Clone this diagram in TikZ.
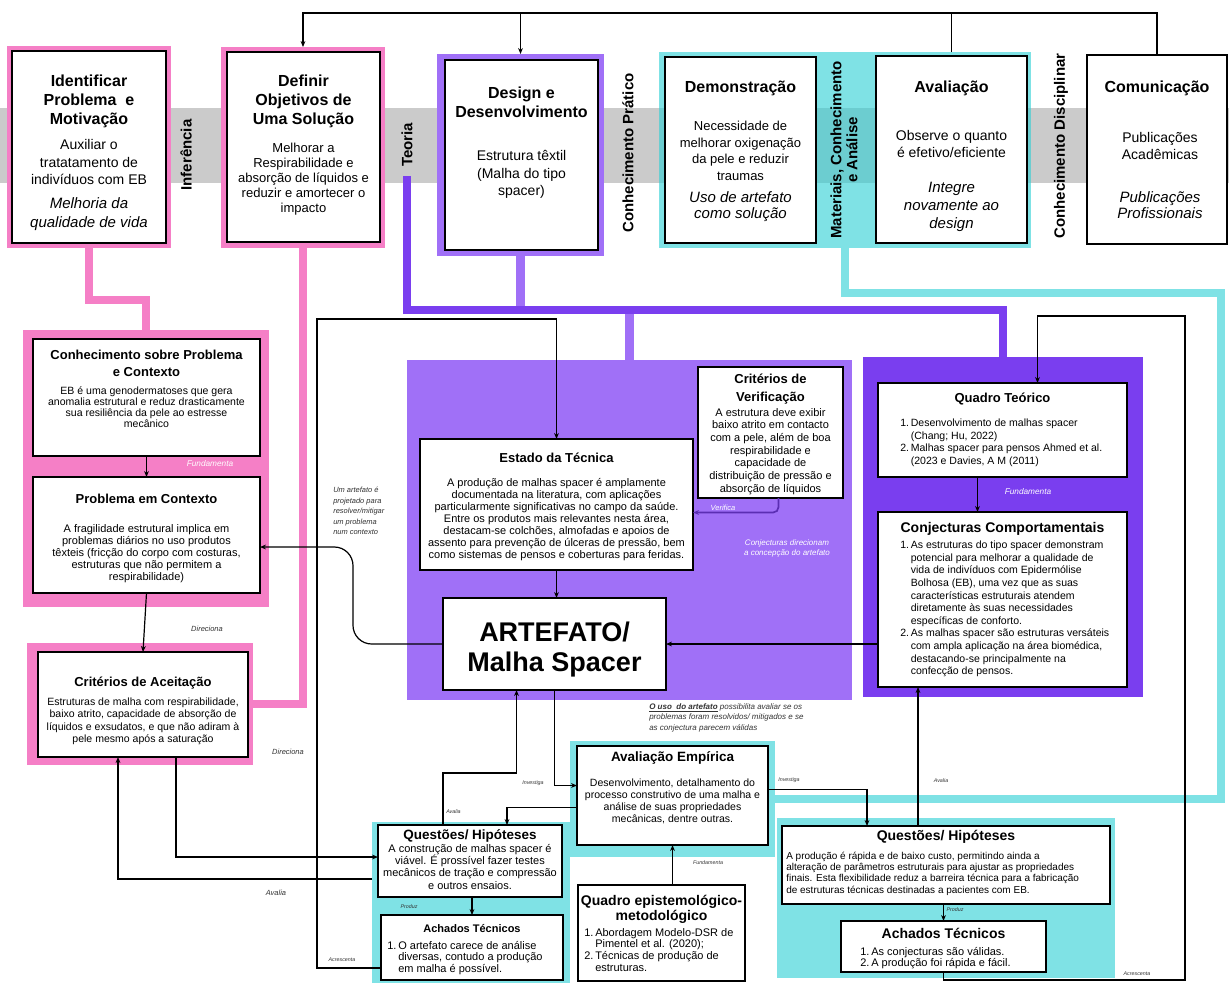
\documentclass[tikz,border=0pt]{standalone}
\usepackage{fontspec}
\setmainfont{Liberation Sans}
\usetikzlibrary{arrows.meta,calc}

\definecolor{pinkc}{HTML}{F57FC6}
\definecolor{lpur}{HTML}{A070F7}
\definecolor{dpur}{HTML}{7A3EEF}
\definecolor{cyanc}{HTML}{7FE2E5}
\definecolor{cyandk}{HTML}{6CCDD0}
\definecolor{bandc}{HTML}{CBCBCB}
\definecolor{verifc}{HTML}{5B2EB3}
\definecolor{notec}{HTML}{333333}

% rectangle node given by its corners (x1,y1)-(x2,y2), then its name
\newcommand\rbox[6][]{%
  \node[box,#1,minimum width={(#4-#2)*0.75pt},minimum height={(#5-#3)*0.75pt}]
    (#6) at ({(#2+#4)/2},{(#3+#5)/2}) {};}

\begin{document}
\begin{tikzpicture}[x=0.75pt,y=-0.75pt,
  box/.style={draw=black,line width=1.4pt,fill=white,inner sep=0pt,outer sep=0pt},
  % text blocks are placed by the baseline of their last line
  tx/.style={inner sep=0pt,align=center,anchor=base},
  tl/.style={inner sep=0pt,align=left,anchor=base west},
  side/.style={inner sep=0pt,rotate=90,align=center,font=\bfseries\fontsize{11.25}{12}\selectfont},
  ttl/.style={font=\bfseries\fontsize{12}{14.25}\selectfont},
  ln/.style={line width=0.9pt,draw=black},
  arr/.style={ln,-{Stealth[length=4.5pt,width=3.6pt]}},
  pinkline/.style={draw=pinkc,line width=6pt},
  lpline/.style={draw=lpur,line width=6.5pt},
  dpline/.style={draw=dpur,line width=6.5pt},
  cyline/.style={draw=cyanc,line width=6pt},
  note/.style={inner sep=0pt,font=\itshape\fontsize{4}{5}\selectfont,text=notec},
  mnote/.style={inner sep=0pt,font=\itshape\fontsize{5.6}{7.9}\selectfont,text=notec},
  wnote/.style={inner sep=0pt,font=\itshape\fontsize{6.2}{7.5}\selectfont,text=white},
]
\useasboundingbox (0,0) rectangle (1229,983);
\fill[white] (0,0) rectangle (1229,983);
\fill[bandc] (0,108) rectangle (1229,183);

% ---------------- top row: DSR activities ----------------
\rbox[draw=none,fill=pinkc]{7}{46}{171}{248}{idfF}
\rbox{12}{51}{166}{243}{idf}
\rbox[draw=none,fill=pinkc]{221}{47}{385}{248}{defF}
\rbox{227}{52}{380}{242}{def}
\rbox[draw=none,fill=lpur]{437}{54}{604}{256}{desF}
\rbox{445}{60}{598}{250}{des}
\rbox[draw=none,fill=cyanc]{659}{52}{1031}{248}{demF}
\fill[cyandk] (659,108) rectangle (1031,183);
\rbox{665}{57}{816}{243}{dem}
\rbox{876}{56}{1027}{243}{ava}
\rbox[line width=0.9pt]{1087}{55}{1227}{244}{com}

\node[tx,ttl] at (89,124.7) {Identificar\\Problema\ \ e\\Motivação};
\node[tx,font=\fontsize{10.5}{13.1}\selectfont] at (89,184.9) {Auxiliar o\\tratatamento de\\indivíduos com EB};
\node[tx,font=\itshape\fontsize{11.25}{14.25}\selectfont] at (89,227.3) {Melhoria da\\qualidade de vida};

\node[tx,ttl] at (303.5,124.7) {Definir\\Objetivos de\\Uma Solução};
\node[tx,font=\fontsize{9.75}{11.25}\selectfont] at (303.5,212.5) {Melhorar a\\Respirabilidade e\\absorção de líquidos e\\reduzir e amortecer o\\impacto};

\node[tx,ttl] at (521.5,117.7) {Design e\\Desenvolvimento};
\node[tx,font=\fontsize{10.5}{13.1}\selectfont] at (521.5,195.9) {Estrutura têxtil\\(Malha do tipo\\spacer)};

\node[tx,ttl] at (740.5,92.7) {Demonstração};
\node[tx,font=\fontsize{9.75}{12.5}\selectfont] at (740.5,180.5) {Necessidade de\\melhorar oxigenação\\da pele e reduzir\\traumas};
\node[tx,font=\itshape\fontsize{11.25}{12.4}\selectfont] at (740.5,218.8) {Uso de artefato\\como solução};

\node[tx,ttl] at (951.5,92.7) {Avaliação};
\node[tx,font=\fontsize{10.5}{12.75}\selectfont] at (951.5,157) {Observe o quanto\\é efetivo/eficiente};
\node[tx,font=\itshape\fontsize{11.25}{13.5}\selectfont] at (951.5,228.3) {Integre\\novamente ao\\design};

\node[tx,ttl] at (1157,92.7) {Comunicação};
\node[tx,font=\fontsize{10.5}{13.1}\selectfont] at (1160,159.5) {Publicações\\Acadêmicas};
\node[tx,font=\itshape\fontsize{11.25}{12.4}\selectfont] at (1160,218.8) {Publicações\\Profissionais};

\node[side] (inf) at (186,155) {Inferência};
\node[side] (teo) at (407,145) {Teoria};
\node[side] (cpr) at (628,153) {Conhecimento Prático};
\node[side] (mat) at (844,150) {Materiais, Conhecimento\\e Análise};
\node[side] (cdi) at (1061,146) {Conhecimento Disciplinar};

% ---------------- middle and lower blocks ----------------
\rbox[draw=none,fill=pinkc]{23}{330}{269}{607}{conF}
\rbox{33}{339}{260}{456}{conh}
\rbox{33}{477}{260}{593}{prob}
\rbox[draw=none,fill=pinkc]{27}{643}{253}{765}{critAF}
\rbox[line width=2pt]{38}{652}{248}{757}{critA}
\rbox[draw=none,fill=lpur]{407}{360}{852}{700}{lpF}
\rbox{698}{367}{843}{498}{critV}
\rbox{420}{439}{693}{570}{est}
\rbox{443}{598}{666}{690}{art}
\rbox[draw=none,fill=dpur]{863}{357}{1143}{697}{dpF}
\rbox{878}{383}{1127}{477}{qt}
\rbox[line width=2.2pt]{878}{512}{1127}{687}{conj}
\rbox[draw=none,fill=cyanc]{570}{741}{775}{857}{aeF}
\rbox{577}{746}{768}{845}{ae}
\rbox[draw=none,fill=cyanc]{372}{822}{570}{983}{qhlF}
\rbox{378}{825}{562}{897}{qhl}
\rbox{381}{915}{563}{980}{achl}
\rbox{578}{885}{745}{981}{qep}
\rbox[draw=none,fill=cyanc]{777}{818}{1115}{978}{qhrF}
\rbox{782}{826}{1110}{904}{qhr}
\rbox{841}{921}{1046}{972}{achr}

% ---------------- thick coloured links ----------------
\coordinate (hb) at (0,310);
\coordinate (cyr) at (1221,293);
\draw[pinkline] (idfF.south) -- ++(0,52) -| (conF.north);
\draw[pinkline] (defF.south) |- (critAF.east);
\draw[lpline] (desF.south) -- (desF.south |- hb);
\draw[lpline] (lpF.north |- hb) -- (lpF.north);
\draw[dpline] ($(teo.west)+(0,9)$) -- (teo.west |- hb) -| (dpF.north);
\draw[cyline] (demF.south) |- (cyr) |- (aeF.east);

% ---------------- thin connectors ----------------
\coordinate (topy) at (0,13);
\draw[arr] (com.north) -- (com.north |- topy) -| (defF.north);
\draw[ln] (ava.north |- demF.north) -- (ava.north |- topy);
\draw[arr] (desF.north |- topy) -- (desF.north);

\coordinate (acl) at (317,319);
\draw[arr] ($(achl.south west)+(0,-12)$) -| (acl) -| (est.north);
\coordinate (acr) at (1185,980);
\coordinate (acr2) at (1185,316);
\draw[arr] (achr.south) |- (acr) -- (acr2) -| ($(qt.north)+(35,0)$);

\draw[draw=verifc,line width=1.3pt,rounded corners=4pt,-{Stealth[length=4.5pt,width=3.6pt]}]
  ($(critV.south)+(8,0)$) |- ($(est.east)+(0,8)$);
\draw[arr] (est.south) -- (est.south |- art.north);
\draw[arr,rounded corners=14pt] (art.west) -| ($(prob.east)+(93,12)$) -- ($(prob.east)+(0,12)$);
\draw[arr] (conj.west |- art.east) -- (art.east);
\draw[arr] ($(qt.south)+(-25,0)$) -- ($(conj.north)+(-25,0)$);
\draw[arr] (conh.south) -- (prob.north);
\draw[arr] (prob.south) -- (critA.north);

\coordinate (y879) at (0,879);
\draw[arr] (qhlF.west |- y879) -| ($(critA.south)+(-25,0)$);
\draw[arr] ($(critA.south)+(33,0)$) |- ($(qhl.west)+(0,-4)$);
\draw[arr] ($(qhl.north)+(-27,0)$) |- ($(art.south)+(-38,83)$) -- ($(art.south)+(-38,0)$);
\draw[arr] (art.south) |- ($(ae.west)+(0,-10)$);
\draw[arr] ($(ae.west)+(0,12)$) -| ($(qhl.north)+(37,0)$);
\draw[arr] ($(ae.east)+(0,-6)$) -| ($(qhr.north)+(-79,0)$);
\draw[arr] (qep.north -| ae.south) -- (ae.south);
\coordinate (x918) at (918,0);
\draw[arr] (qhr.north -| x918) -- (conj.south -| x918);
\draw[arr] (qhl.south -| achl.north) -- (achl.north);
\draw[arr] (qhr.south -| achr.north) -- (achr.north);

% ---------------- block texts ----------------
\node[tx,font=\bfseries\fontsize{9.75}{12.75}\selectfont] at (146.5,376.5) {Conhecimento sobre Problema\\e Contexto};
\node[tx,font=\fontsize{7.9}{8.3}\selectfont] at (146.5,427.9) {EB é uma genodermatoses que gera\\anomalia estrutural e reduz drasticamente\\sua resiliência da pele ao estresse\\mecânico};

\node[tx,font=\bfseries\fontsize{9.75}{12}\selectfont] at (146.5,503.5) {Problema em Contexto};
\node[tx,font=\fontsize{8.25}{9.15}\selectfont] at (146.5,580.8) {A fragilidade estrutural implica em\\problemas diários no uso produtos\\têxteis (fricção do corpo com costuras,\\estruturas que não permitem a\\respirabilidade)};

\node[tx,font=\bfseries\fontsize{9.75}{12}\selectfont] at (143,686.5) {Critérios de Aceitação};
\node[tx,font=\fontsize{7.9}{9.2}\selectfont] at (143,742.5) {Estruturas de malha com respirabilidade,\\baixo atrito, capacidade de absorção de\\líquidos e exsudatos, e que não adiram à\\pele mesmo após a saturação};

\node[tx,font=\bfseries\fontsize{9.75}{12}\selectfont] at (556.5,462.5) {Estado da Técnica};
\node[tx,font=\fontsize{8.25}{9}\selectfont] at (556.5,558.8) {A produção de malhas spacer é amplamente\\documentada na literatura, com aplicações\\particularmente significativas no campo da saúde.\\Entre os produtos mais relevantes nesta área,\\destacam-se colchões, almofadas e apoios de\\assento para prevenção de úlceras de pressão, bem\\como sistemas de pensos e coberturas para feridas.};

\node[tx,font=\bfseries\fontsize{9.75}{13.5}\selectfont] at (770.5,401.5) {Critérios de\\Verificação};
\node[tx,font=\fontsize{8.25}{9.5}\selectfont] at (770.5,492) {A estrutura deve exibir\\baixo atrito em contacto\\com a pele, além de boa\\respirabilidade e\\capacidade de\\distribuição de pressão e\\absorção de líquidos};

\node[tx,font=\bfseries\fontsize{20.25}{22.5}\selectfont] at (554.5,671.7) {ARTEFATO/\\Malha Spacer};

\node[tx,font=\bfseries\fontsize{9.75}{12}\selectfont] at (1002.5,402.5) {Quadro Teórico};
\node[tl,font=\fontsize{7.9}{9.45}\selectfont] at (900,464.5) {1.\,Desenvolvimento de malhas spacer\\\phantom{1.\,}(Chang; Hu, 2022)\\2.\,Malhas spacer para pensos Ahmed et al.\\\phantom{2.\,}(2023 e Davies, A M (2011)};

\node[tx,font=\bfseries\fontsize{10.5}{12}\selectfont] at (1002.5,532) {Conjecturas Comportamentais};
\node[tl,font=\fontsize{7.9}{9.45}\selectfont] at (900,674.7) {1.\,As estruturas do tipo spacer demonstram\\\phantom{1.\,}potencial para melhorar a qualidade de\\\phantom{1.\,}vida de indivíduos com Epidermólise\\\phantom{1.\,}Bolhosa (EB), uma vez que as suas\\\phantom{1.\,}características estruturais atendem\\\phantom{1.\,}diretamente às suas necessidades\\\phantom{1.\,}específicas de conforto.\\2.\,As malhas spacer são estruturas versáteis\\\phantom{2.\,}com ampla aplicação na área biomédica,\\\phantom{2.\,}destacando-se principalmente na\\\phantom{2.\,}confecção de pensos.};

\node[tx,font=\bfseries\fontsize{10.1}{12}\selectfont] at (672.5,761.7) {Avaliação Empírica};
\node[tx,font=\fontsize{7.9}{9}\selectfont] at (672.5,822.7) {Desenvolvimento, detalhamento do\\processo construtivo de uma malha e\\análise de suas propriedades\\mecânicas, dentre outras.};

\node[tx,font=\bfseries\fontsize{10.1}{12}\selectfont] at (470,839.7) {Questões/ Hipóteses};
\node[tx,font=\fontsize{8.25}{9.3}\selectfont] at (470,889.2) {A construção de malhas spacer é\\viável. É prossível fazer testes\\mecânicos de tração e compressão\\e outros ensaios.};

\node[tx,font=\bfseries\fontsize{8.25}{10}\selectfont] at (472,932) {Achados Técnicos};
\node[tl,font=\fontsize{8.25}{8.8}\selectfont] at (387,972.5) {1.\,O artefato carece de análise\\\phantom{1.\,}diversas, contudo a produção\\\phantom{1.\,}em malha é possível.};

\node[tx,font=\bfseries\fontsize{10.5}{11.6}\selectfont] at (661.5,920.5) {Quadro epistemológico-\\metodológico};
\node[tl,font=\fontsize{8.25}{8.85}\selectfont] at (584,971.4) {1.\,Abordagem Modelo-DSR de\\\phantom{1.\,}Pimentel et al. (2020);\\2.\,Técnicas de produção de\\\phantom{2.\,}estruturas.};

\node[tx,font=\bfseries\fontsize{10.5}{12}\selectfont] at (946,840) {Questões/ Hipóteses};
\node[tl,font=\fontsize{7.5}{8.6}\selectfont] at (786,893.4) {A produção é rápida e de baixo custo, permitindo ainda a\\alteração de parâmetros estruturais para ajustar as propriedades\\finais. Esta flexibilidade reduz a barreira técnica para a fabricação\\de estruturas técnicas destinadas a pacientes com EB.};

\node[tx,font=\bfseries\fontsize{10.5}{12}\selectfont] at (943.5,938) {Achados Técnicos};
\node[tl,font=\fontsize{8.25}{8.25}\selectfont] at (860,966) {1.\,As conjecturas são válidas.\\2.\,A produção foi rápida e fácil.};

% ---------------- connector labels ----------------
\node[wnote] at (210,464) {Fundamenta};
\node[wnote] at (1028,492) {Fundamenta};
\node[wnote,font=\itshape\fontsize{5.6}{6}\selectfont] at (723,508) {Verifica};
\node[wnote,align=center,font=\itshape\fontsize{6}{7.5}\selectfont] at (787,548) {Conjecturas direcionam\\a concepção do artefato};
\node[mnote] at (207,629) {Direciona};
\node[mnote] at (288,752) {Direciona};
\node[mnote] at (276,893) {Avalia};
\node[mnote,align=left,anchor=north west] at (333,487) {Um artefato é\\projetado para\\resolver/mitigar\\um problema\\num contexto};
\node[mnote,align=left,anchor=north west,font=\itshape\fontsize{6}{7.9}\selectfont] at (649,703) {\textbf{\underline{O uso\ \ do artefato}} possibilita avaliar se os\\problemas foram resolvidos/ mitigados e se\\as conjectura parecem válidas};
\node[note] at (342,960) {Acrescenta};
\node[note] at (1137,974) {Acrescenta};
\node[note,anchor=west] at (446,812) {Avalia};
\node[note] at (533,783) {Investiga};
\node[note] at (789,780) {Investiga};
\node[note] at (941,781) {Avalia};
\node[note] at (409,907) {Produz};
\node[note] at (955,910) {Produz};
\node[note] at (708,863) {Fundamenta};
\end{tikzpicture}
\end{document}
